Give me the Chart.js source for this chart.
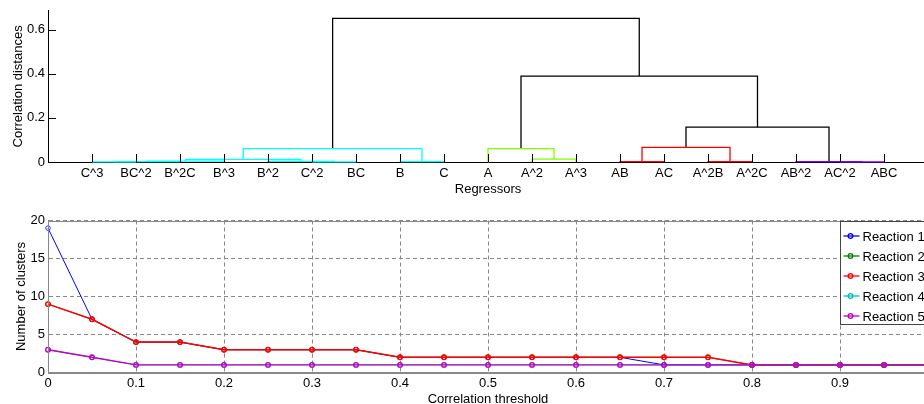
<!DOCTYPE html>
<html>
<head>
<meta charset="utf-8">
<script src="https://cdn.jsdelivr.net/npm/chart.js@4"></script>
<style>
body { margin: 0; background: #fff; }
#wrap { width: 924px; height: 404px; overflow: hidden; }
canvas { display: block; }
</style>
</head>
<body>
<div id="wrap">
  <canvas id="dendro" width="940" height="200"></canvas>
  <canvas id="clusters" width="940" height="204"></canvas>
</div>
<script>
// ---- dendrogram data ----
var leaves = ["C^3", "BC^2", "B^2C", "B^3", "B^2", "C^2", "BC", "B", "C", "A",
              "A^2", "A^3", "AB", "AC", "A^2B", "A^2C", "AB^2", "AC^2", "ABC"];
// linkage rows (node ids >= 19 refer to earlier rows)
var linkLeft   = [0, 19, 20, 5, 4, 21, 7, 24, 10, 9, 12, 14, 29, 17, 16, 31, 28, 26];
var linkRight  = [1, 2, 3, 6, 22, 23, 8, 25, 11, 27, 13, 15, 30, 18, 32, 33, 34, 35];
var linkHeight = [0.001, 0.002, 0.004, 0.001, 0.003, 0.012, 0.002, 0.061, 0.013, 0.061,
                  0.002, 0.002, 0.066, 0.001, 0.0015, 0.158, 0.39, 0.652];
var linkGroup  = [1, 1, 1, 1, 1, 1, 1, 1, 2, 2, 3, 3, 3, 4, 4, 0, 0, 0];
var distTicks  = [0, 0.2, 0.4, 0.6];

// ---- cluster count data ----
var thresholds = [0, 0.05, 0.1, 0.15, 0.2, 0.25, 0.3, 0.35, 0.4, 0.45, 0.5,
                  0.55, 0.6, 0.65, 0.7, 0.75, 0.8, 0.85, 0.9, 0.95, 1];
var reaction1 = [19, 7, 4, 4, 3, 3, 3, 3, 2, 2, 2, 2, 2, 2, 1, 1, 1, 1, 1, 1, 1];
var reaction2 = [9, 7, 4, 4, 3, 3, 3, 3, 2, 2, 2, 2, 2, 2, 2, 2, 1, 1, 1, 1, 1];
var reaction3 = [9, 7, 4, 4, 3, 3, 3, 3, 2, 2, 2, 2, 2, 2, 2, 2, 1, 1, 1, 1, 1];
var reaction4 = [3, 2, 1, 1, 1, 1, 1, 1, 1, 1, 1, 1, 1, 1, 1, 1, 1, 1, 1, 1, 1];
var reaction5 = [3, 2, 1, 1, 1, 1, 1, 1, 1, 1, 1, 1, 1, 1, 1, 1, 1, 1, 1, 1, 1];
var seriesNames = ["Reaction 1", "Reaction 2", "Reaction 3", "Reaction 4", "Reaction 5"];

var groupColors  = ["#000000", "#00ffff", "#80ff00", "#ff0000", "#7f00ff"];
var seriesColors = ["#0000ff", "#008000", "#ff0000", "#00bfbf", "#bf00bf"];
var seriesWidths = [1, 0.8, 1.5, 0.8, 1.4];

Chart.defaults.font.family = "'Liberation Sans', Arial, sans-serif";
Chart.defaults.font.size = 13;
Chart.defaults.color = "#000";

// build the U shaped links from the linkage table
var nLeaves = leaves.length;
var nodePos = [], nodeH = [];
for (var i = 0; i < nLeaves; i++) { nodePos[i] = i + 1; nodeH[i] = 0; }
var linkSets = [];
for (var k = 0; k < linkLeft.length; k++) {
    var l = linkLeft[k], r = linkRight[k], h = linkHeight[k];
    linkSets.push({
        data: [
            {x: nodePos[l], y: nodeH[l]},
            {x: nodePos[l], y: h},
            {x: nodePos[r], y: h},
            {x: nodePos[r], y: nodeH[r]}
        ],
        borderColor: groupColors[linkGroup[k]],
        borderWidth: 1.3,
        pointRadius: 0,
        tension: 0,
        clip: 4
    });
    nodePos[nLeaves + k] = (nodePos[l] + nodePos[r]) / 2;
    nodeH[nLeaves + k] = h;
}

var inwardTicks = {
    id: 'inwardTicks',
    afterDraw: function(chart) {
        var ctx = chart.ctx, a = chart.chartArea;
        var xs = chart.scales.x, ys = chart.scales.y;
        ctx.save();
        ctx.strokeStyle = '#000';
        ctx.lineWidth = 1;
        ctx.beginPath();
        xs.ticks.forEach(function(t) {
            var px = Math.round(xs.getPixelForValue(t.value)) + 0.5;
            ctx.moveTo(px, a.bottom);
            ctx.lineTo(px, a.bottom - 8);
        });
        ys.ticks.forEach(function(t) {
            var py = Math.round(ys.getPixelForValue(t.value)) + 0.5;
            ctx.moveTo(a.left, py);
            ctx.lineTo(a.left + 8, py);
        });
        ctx.stroke();
        ctx.restore();
    }
};

new Chart(document.getElementById('dendro'), {
    type: 'line',
    data: { datasets: linkSets },
    plugins: [inwardTicks],
    options: {
        responsive: false,
        animation: false,
        layout: { padding: { top: 10, right: 12, left: 0, bottom: 0 } },
        plugins: { legend: { display: false }, tooltip: { enabled: false } },
        scales: {
            x: {
                type: 'linear', min: 0, max: 20,
                afterBuildTicks: function(s) {
                    s.ticks = leaves.map(function(n, i) { return {value: i + 1}; });
                },
                afterFit: function(s) { s.height = 38; },
                ticks: {
                    autoSkip: false, maxRotation: 0, padding: 4,
                    callback: function(v) { return leaves[v - 1]; }
                },
                grid: { display: false, drawTicks: false },
                border: { color: '#000', width: 1 },
                title: { display: true, text: 'Regressors', font: { lineHeight: 1 }, padding: { top: 0, bottom: 4.5 } }
            },
            y: {
                min: 0, max: 0.686,
                afterBuildTicks: function(s) {
                    s.ticks = distTicks.map(function(v) { return {value: v}; });
                },
                afterFit: function(s) { s.width = 48; },
                ticks: { padding: 3, callback: function(v) { return String(v); } },
                grid: { display: false, drawTicks: false },
                border: { color: '#000', width: 1 },
                title: { display: true, text: 'Correlation distances', font: { lineHeight: 1 }, padding: { top: 11.5, bottom: 0 } }
            }
        }
    }
});

var boxAndLegend = {
    id: 'boxAndLegend',
    afterDatasetsDraw: function(chart) {
        var ctx = chart.ctx, a = chart.chartArea;
        ctx.save();
        ctx.strokeStyle = '#888';
        ctx.lineWidth = 1;
        ctx.strokeRect(Math.round(a.left) + 0.5, Math.round(a.top) + 0.5,
                       Math.round(a.right - a.left), Math.round(a.bottom - a.top));
        // legend box
        var lx = Math.round(a.right) - 88 + 0.5, ly = Math.round(a.top) + 0.5;
        ctx.fillStyle = '#fff';
        ctx.fillRect(lx, ly, 120, 103);
        ctx.strokeStyle = '#444';
        ctx.strokeRect(lx, ly, 120, 103);
        ctx.font = "13px 'Liberation Sans', Arial, sans-serif";
        ctx.textBaseline = 'middle';
        chart.data.datasets.forEach(function(ds, i) {
            var y = ly + 14.5 + i * 20;
            ctx.strokeStyle = ds.borderColor;
            ctx.lineWidth = 1.3;
            ctx.beginPath();
            ctx.moveTo(lx + 3, y);
            ctx.lineTo(lx + 19, y);
            ctx.stroke();
            ctx.beginPath();
            ctx.arc(lx + 10, y, 2.3, 0, Math.PI * 2);
            ctx.stroke();
            ctx.fillStyle = '#000';
            ctx.fillText(ds.label, lx + 22, y + 1);
        });
        ctx.restore();
    }
};

var allSeries = [reaction1, reaction2, reaction3, reaction4, reaction5];
new Chart(document.getElementById('clusters'), {
    type: 'line',
    data: {
        labels: thresholds,
        datasets: allSeries.map(function(vals, i) {
            return {
                label: seriesNames[i],
                data: vals.map(function(v, j) { return {x: thresholds[j], y: v}; }),
                borderColor: seriesColors[i],
                borderWidth: seriesWidths[i],
                pointRadius: 2.3,
                pointBorderWidth: seriesWidths[i] > 1 ? 1.3 : 0.8,
                pointBackgroundColor: 'rgba(0,0,0,0)',
                pointBorderColor: seriesColors[i],
                tension: 0,
                order: 4 - i,
                clip: 4
            };
        })
    },
    plugins: [boxAndLegend],
    options: {
        responsive: false,
        animation: false,
        layout: { padding: { top: 20.5, right: 12, left: 0, bottom: 0 } },
        plugins: { legend: { display: false }, tooltip: { enabled: false } },
        scales: {
            x: {
                type: 'linear', min: 0, max: 1,
                afterFit: function(s) { s.height = 31.5; },
                ticks: {
                    stepSize: 0.1, padding: 3, maxRotation: 0, autoSkip: false,
                    callback: function(v) { return v >= 1 ? '' : String(Math.round(v * 10) / 10); }
                },
                grid: { color: '#888', drawTicks: false },
                border: { color: '#888', dash: [4, 3] },
                title: { display: true, text: 'Correlation threshold', font: { lineHeight: 1 }, padding: { top: 0, bottom: -1.5 } }
            },
            y: {
                min: 0, max: 20,
                afterFit: function(s) { s.width = 48; },
                ticks: { stepSize: 5, padding: 3 },
                grid: { color: '#888', drawTicks: false },
                border: { color: '#888', dash: [4, 3] },
                title: { display: true, text: 'Number of clusters', font: { lineHeight: 1 }, padding: { top: 14.5, bottom: 0 } }
            }
        }
    }
});
</script>
</body>
</html>
